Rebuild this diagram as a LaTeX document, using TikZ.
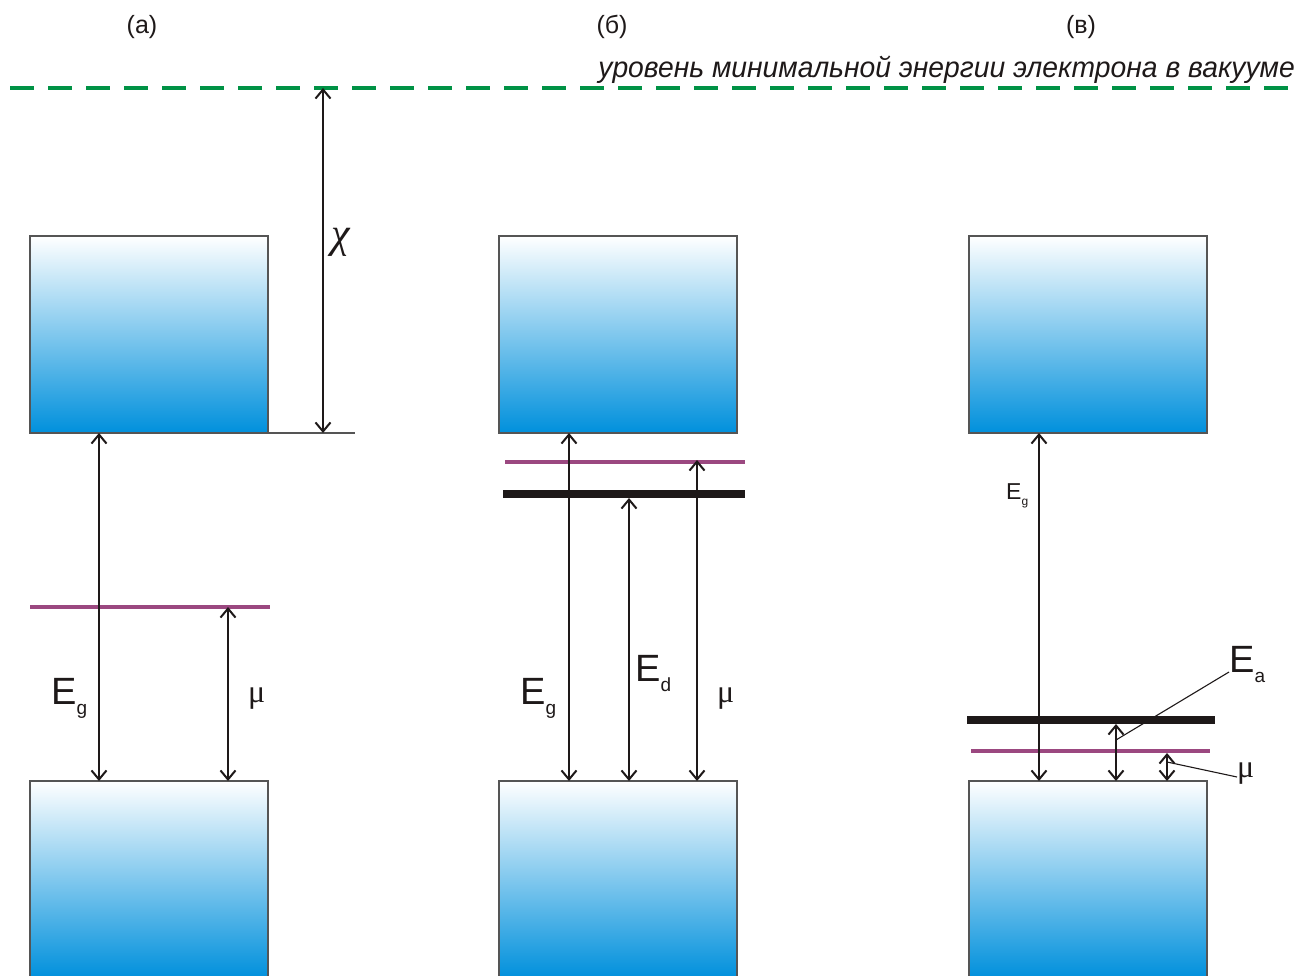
\documentclass[tikz,border=0pt]{standalone}
\usepackage{fontspec}
\setmainfont{Liberation Sans}
\newfontfamily\greekserif{Liberation Serif}
\usetikzlibrary{arrows.meta}
\definecolor{vacgreen}{RGB}{0,146,69}
\definecolor{mupurple}{RGB}{155,72,128}
\definecolor{bandblue}{RGB}{0,144,220}
\definecolor{bordergray}{RGB}{85,85,85}
\definecolor{ink}{RGB}{30,25,25}
\tikzset{
  band/.style={draw=bordergray, line width=1.5pt, top color=white, bottom color=bandblue,
    minimum width=238pt, minimum height=197pt, inner sep=0pt, outer sep=0pt, anchor=north west},
  mulevel/.style={draw=mupurple, line width=4pt},
  dlevel/.style={draw=ink, line width=8.5pt},
  dim/.style={draw=ink, line width=2.2pt, {Straight Barb[length=9pt,width=15pt,line width=2pt]}-{Straight Barb[length=9pt,width=15pt,line width=2pt]}},
  leader/.style={draw=ink, line width=1.1pt},
  big/.style={font=\fontsize{38}{38}\selectfont, inner sep=0pt, text=ink},
  mu/.style={font=\greekserif\fontsize{32}{32}\selectfont, inner sep=0pt, text=ink},
  panel/.style={font=\fontsize{25}{25}\selectfont, inner sep=0pt, text=ink},
}
\newcommand{\Esub}[1]{E\raisebox{-10pt}{\fontsize{19}{19}\selectfont #1}}
\begin{document}
\begin{tikzpicture}[x=1pt,y=-1pt]
\useasboundingbox (0,0) rectangle (1299,976);
\begin{scope}
\clip (0,0) rectangle (1299,976);
% panel labels
\node[panel] (la) at (142,27) {(а)};
\node[panel] (lb) at (612,27) {(б)};
\node[panel] (lc) at (1081,27) {(в)};
% vacuum level
\coordinate (vacL) at (10,88);
\coordinate (vacR) at (1290,88);
\draw[draw=vacgreen, line width=4.5pt, dash pattern=on 24pt off 14pt] (vacL) -- (vacR);
\node[anchor=base east, inner sep=0pt, text=ink, font=\itshape\fontsize{29}{29}\selectfont] (vac) at (1295,78) {\scalebox{0.975}[1]{уровень минимальной энергии электрона в вакууме}};
% bands
\node[band] (ca) at (30,236) {};
\node[band] (cb) at (499,236) {};
\node[band] (cc) at (969,236) {};
\node[band] (va) at (30,781) {};
\node[band] (vb) at (499,781) {};
\node[band] (vc) at (969,781) {};
% ---- panel (a)
\coordinate (chiTop) at (323,88);
\coordinate (chiBot) at (323,433);
\coordinate (chiEnd) at (355,433);
\draw[draw=bordergray, line width=1.3pt] (ca.south east) -- (chiEnd);
\draw[dim] (chiTop) -- (chiBot);
\node[inner sep=0pt, text=ink, font=\greekserif\itshape\fontsize{42}{42}\selectfont] (chi) at (341,242) {χ};
\coordinate (muaL) at (30,607);
\coordinate (muaR) at (270,607);
\draw[mulevel] (muaL) -- (muaR);
\draw[dim] (ca.south west -| 99,0) -- (va.north west -| 99,0);
\draw[dim] (228,607) -- (va.north west -| 228,0);
\node[big, anchor=base west] (Ega) at (51,704) {\Esub{g}};
\node[mu, anchor=base west] (mua) at (248,702) {μ};
% ---- panel (б)
\coordinate (mubL) at (505,462);
\coordinate (mubR) at (745,462);
\draw[mulevel] (mubL) -- (mubR);
\coordinate (dL) at (503,494);
\coordinate (dR) at (745,494);
\draw[dlevel] (dL) -- (dR);
\draw[dim] (vb.north west -| 569,0) -- (cb.south west -| 569,0);
\draw[dim] (vb.north west -| 629,0) -- (629,498);
\draw[dim] (vb.north west -| 697,0) -- (697,460);
\node[big, anchor=base west] (Egb) at (520,704) {\Esub{g}};
\node[big, anchor=base west] (Ed) at (635,681) {\Esub{d}};
\node[mu, anchor=base west] (mub) at (717,702) {μ};
% ---- panel (в)
\coordinate (aL) at (967,720);
\coordinate (aR) at (1215,720);
\draw[dlevel] (aL) -- (aR);
\coordinate (mucL) at (971,751);
\coordinate (mucR) at (1210,751);
\draw[mulevel] (mucL) -- (mucR);
\draw[dim] (cc.south west -| 1039,0) -- (vc.north west -| 1039,0);
\draw[dim] (1116,724) -- (vc.north west -| 1116,0);
\draw[dim] (1167,753) -- (vc.north west -| 1167,0);
\node[inner sep=0pt, text=ink, font=\fontsize{23}{23}\selectfont, anchor=base west] (Egc) at (1006,499) {E\raisebox{-6pt}{\fontsize{12}{12}\selectfont g}};
\node[big, anchor=base west] (Ea) at (1229,672) {\Esub{a}};
\node[mu, anchor=base west] (muc) at (1237,777) {μ};
\coordinate (EaArr) at (1116,740);
\coordinate (EaLead) at (1229,672);
\draw[leader] (EaLead) -- (EaArr);
\coordinate (muArr) at (1167,762);
\coordinate (muLead) at (1237,777);
\draw[leader] (muLead) -- (muArr);
\end{scope}
\end{tikzpicture}
\end{document}
